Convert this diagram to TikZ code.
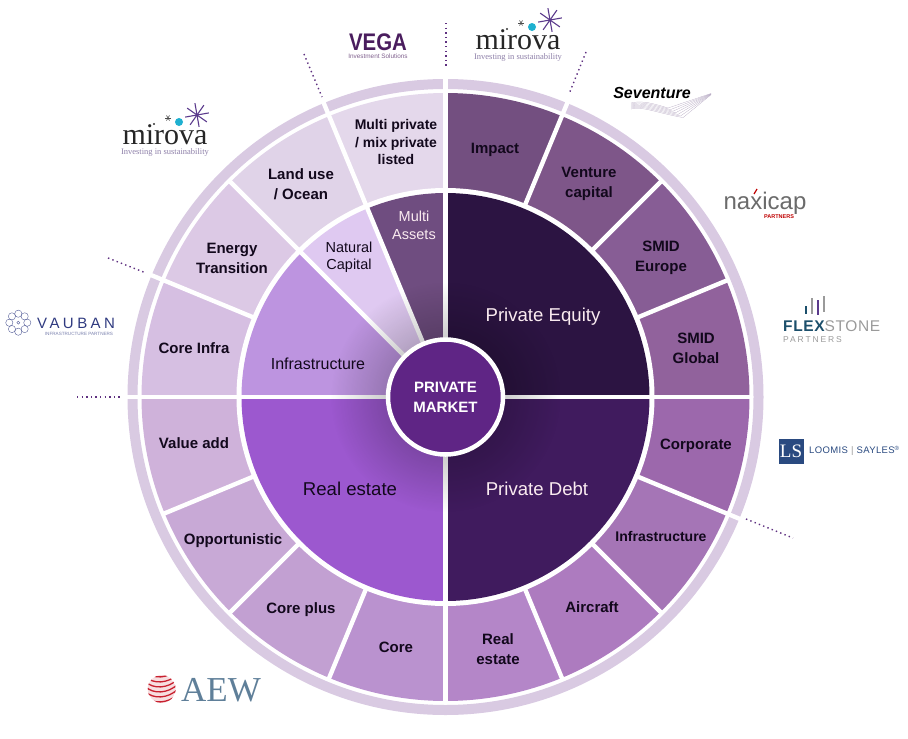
\documentclass[tikz,border=0pt]{standalone}
\usepackage{fontspec}
\setmainfont{Liberation Sans}
\newfontfamily\logoserif{Liberation Serif}
\usetikzlibrary{fadings}

\definecolor{ringcol}{HTML}{D9CAE2}
\definecolor{bandA}{HTML}{734F80}
\definecolor{bandB}{HTML}{7E5689}
\definecolor{bandC}{HTML}{875D95}
\definecolor{bandD}{HTML}{91629C}
\definecolor{bandE}{HTML}{9C68AC}
\definecolor{bandF}{HTML}{A575B6}
\definecolor{bandG}{HTML}{AD7BBF}
\definecolor{bandH}{HTML}{B486C8}
\definecolor{bandI}{HTML}{BA92CF}
\definecolor{bandJ}{HTML}{C2A0D2}
\definecolor{bandK}{HTML}{C8A9D6}
\definecolor{bandL}{HTML}{CFB2DA}
\definecolor{bandM}{HTML}{D6BFE2}
\definecolor{bandN}{HTML}{DCC9E5}
\definecolor{bandO}{HTML}{E0D3E8}
\definecolor{bandP}{HTML}{E4D8EB}
\definecolor{equitycol}{HTML}{2C1442}
\definecolor{debtcol}{HTML}{401B5E}
\definecolor{estatecol}{HTML}{9C58CF}
\definecolor{infracol}{HTML}{BD94E0}
\definecolor{naturalcol}{HTML}{DFC9F1}
\definecolor{assetscol}{HTML}{6F4D80}
\definecolor{hubcol}{HTML}{5F2585}
\definecolor{labeltext}{HTML}{12081C}
\definecolor{leadcol}{HTML}{5E3080}
\definecolor{mirovastar}{HTML}{5B3A8C}
\definecolor{mirovablue}{HTML}{1FB0D0}
\definecolor{mirovatag}{HTML}{8D7FA8}
\definecolor{vegacol}{HTML}{4A1D5E}
\definecolor{swooshcol}{HTML}{B5A8C2}
\definecolor{flexcol}{HTML}{1C4F6B}
\definecolor{stonecol}{HTML}{9A9A9A}
\definecolor{loomiscol}{HTML}{2A4A80}
\definecolor{vaubancol}{HTML}{2F3A80}
\definecolor{aewcol}{HTML}{5F7F99}
\definecolor{aewred}{HTML}{C8202F}

\tikzfading[name=hubfade, inner color=transparent!60, outer color=transparent!100]

\tikzset{
pics/mirovalogo/.style={code={
	\node[text=black!85,font=\logoserif\fontsize{30}{30}\selectfont,inner sep=0,anchor=base] (-word) at (0,7) {mirova};
	\node[text=mirovatag,font=\logoserif\fontsize{8.5}{9}\selectfont,inner sep=0,anchor=base] (-tag) at (0,17.5) {Investing in sustainability};
	\foreach \a in {10,55,100,145}
		\draw[mirovastar,line width=1.1pt] (32,-22) ++(\a:12pt) -- ++(\a+180:24pt);
	\fill[mirovablue] (14,-15) circle[radius=4pt];
	\foreach \a in {0,60,120}
		\draw[black!70,line width=.6pt] (3,-19) ++(\a:3pt) -- ++(\a+180:6pt);
	\fill[black!80] (-11,-13) circle[radius=1.2pt];
}}}

\begin{document}
\begin{tikzpicture}
[x=1pt,y=-1pt,
bandlabel/.style={font=\bfseries\fontsize{15}{20}\selectfont,align=center,text=labeltext,inner sep=0},
smalllabel/.style={font=\bfseries\fontsize{14}{17.5}\selectfont,align=center,text=labeltext,inner sep=0},
innerlabel/.style={font=\fontsize{18.6}{21}\selectfont,align=center,inner sep=0},
thinlabel/.style={font=\fontsize{14.5}{17.5}\selectfont,align=center,inner sep=0},
leader/.style={leadcol,line width=1.4pt,dash pattern=on 1.4pt off 3.2pt},
spoke/.style={white,line width=4.4pt}]

\useasboundingbox (0,0) rectangle (908,739);

\begin{scope}[shift={(445.5,397)}]
% outer ring
\fill[ringcol,even odd rule] (0,0) circle[radius=318pt] (0,0) circle[radius=308pt];
\foreach \a in {90,67.5,-22.5,157.5,180,112.5}
	\draw[spoke] (\a:305pt) -- (\a:321pt);
% band of sixteen
\foreach \col [count=\i,evaluate=\i as \a using 90-(\i-1)*22.5] in {bandA,bandB,bandC,bandD,bandE,bandF,bandG,bandH,bandI,bandJ,bandK,bandL,bandM,bandN,bandO,bandP}
	\fill[\col] (0,0) -- (\a:304pt) arc[start angle=\a,delta angle=-22.5,radius=304pt] -- cycle;
\foreach \i in {0,...,15}
	\draw[spoke] (90-\i*22.5:204pt) -- (90-\i*22.5:306pt);
\fill[white] (0,0) circle[radius=209pt];
% inner sectors
\fill[equitycol] (0,0) -- (90:204pt) arc[start angle=90,delta angle=-90,radius=204pt] -- cycle;
\fill[debtcol] (0,0) -- (0:204pt) arc[start angle=0,delta angle=-90,radius=204pt] -- cycle;
\fill[estatecol] (0,0) -- (-90:204pt) arc[start angle=-90,delta angle=-90,radius=204pt] -- cycle;
\fill[infracol] (0,0) -- (180:204pt) arc[start angle=180,delta angle=-45,radius=204pt] -- cycle;
\fill[naturalcol] (0,0) -- (135:204pt) arc[start angle=135,delta angle=-22.5,radius=204pt] -- cycle;
\fill[assetscol] (0,0) -- (112.5:204pt) arc[start angle=112.5,delta angle=-22.5,radius=204pt] -- cycle;
\foreach \a in {90,0,-90,180,135,112.5}
	\draw[spoke] (0,0) -- (\a:209pt);
\fill[black,path fading=hubfade] (0,0) circle[radius=115pt];
\end{scope}

\node[circle,draw=white,line width=4.5pt,fill=hubcol,minimum size=115pt,inner sep=0,text=white,align=center,font=\bfseries\fontsize{15}{20}\selectfont] (hub) at (445.5,397) {PRIVATE\\MARKET};

% inner labels
\node[innerlabel,text=white!92!purple] (equity) at (543,317) {Private Equity};
\node[innerlabel,text=white!92!purple] (debt) at (537,489) {Private Debt};
\node[innerlabel,text=labeltext] (estate) at (350,489) {Real estate};
\node[thinlabel,text=labeltext,font=\fontsize{16}{18}\selectfont] (infra) at (318,364) {Infrastructure};
\node[thinlabel,text=labeltext] (natural) at (349,257) {Natural\\Capital};
\node[thinlabel,text=white!92!purple] (assets) at (414,225.5) {Multi\\Assets};

% band labels
\node[bandlabel] (impact) at (495,150) {Impact};
\node[bandlabel] (venture) at (589,184) {Venture\\capital};
\node[bandlabel] (smideu) at (661,258) {SMID\\Europe};
\node[bandlabel] (smidgl) at (696,348) {SMID\\Global};
\node[bandlabel] (corporate) at (696,446) {Corporate};
\node[smalllabel] (infradebt) at (661,536) {Infrastructure};
\node[bandlabel] (aircraft) at (592,607) {Aircraft};
\node[bandlabel] (realdebt) at (498,649) {Real\\estate};
\node[bandlabel] (core) at (396,647) {Core};
\node[bandlabel] (coreplus) at (301,610) {Core plus};
\node[bandlabel] (opport) at (233,541) {Opportunistic};
\node[bandlabel] (valueadd) at (194,443) {Value add};
\node[bandlabel] (coreinfra) at (194,348) {Core Infra};
\node[bandlabel] (energy) at (232,258.5) {Energy\\Transition};
\node[bandlabel] (landuse) at (301,184) {Land use\\/ Ocean};
\node[smalllabel] (multi) at (396,142) {Multi private\\/ mix private\\listed};

% leaders
\coordinate (leadAa) at (446,23);
\coordinate (leadAb) at (446,68);
\coordinate (leadBa) at (586,52);
\coordinate (leadBb) at (569,94);
\coordinate (leadCa) at (746,519);
\coordinate (leadCb) at (793,538);
\coordinate (leadDa) at (77,397);
\coordinate (leadDb) at (122,397);
\coordinate (leadEa) at (108,258);
\coordinate (leadEb) at (146,273);
\coordinate (leadFa) at (304,54);
\coordinate (leadFb) at (322,97);
\foreach \l in {A,B,C,D,E,F}
	\draw[leader] (lead\l a) -- (lead\l b);

% logos
\pic (mirovaright) at (518,42) {mirovalogo};
\pic (mirovaleft) at (165,137) {mirovalogo};

\node[text=vegacol,font=\bfseries\fontsize{24}{24}\selectfont,inner sep=0] (vega) at (378,42) {\scalebox{.85}[1]{VEGA}};
\node[text=vegacol!70,font=\fontsize{6.4}{7}\selectfont,inner sep=0] (vegasub) at (378,56) {Investment Solutions};

\foreach \s in {0,...,6} {
	\draw[swooshcol,line width=.25pt] (631,{103+\s}) .. controls (642,{100+\s}) and (655,{104+\s*1.4}) .. ({668+\s*2.5},{108+\s*1.6});
	\draw[swooshcol,line width=.25pt] ({668+\s*2.5},{108+\s*1.6}) -- (711,{93.5+\s*.2});
}
\node[text=black,font=\bfseries\itshape\fontsize{16}{16}\selectfont,inner sep=0] (seventure) at (652,93) {Seventure};

\node[text=black!58,font=\fontsize{24}{24}\selectfont,inner sep=0,anchor=base] (naxicap) at (765,209) {naxicap};
\draw[red!75!black,line width=1.2pt] (754,194) -- (757,189);
\node[text=red!75!black,font=\bfseries\fontsize{5.5}{6}\selectfont,inner sep=0] (naxisub) at (779,216.5) {PARTNERS};

\foreach \x/\top/\bot/\col in {806/306/314/flexcol,812/298/314/stonecol,818/300/315/mirovastar,824/296/312/stonecol}
	\draw[\col,line width=2pt] (\x,\top) -- (\x,\bot);
\node[font=\fontsize{15.5}{16}\selectfont,inner sep=0,anchor=west] (flexstone) at (783,326) {\addfontfeature{LetterSpace=4}\textcolor{flexcol}{\bfseries FLEX}\textcolor{stonecol}{STONE}};
\node[text=stonecol,font=\fontsize{8.5}{9}\selectfont,inner sep=0,anchor=west] (flexsub) at (783,340) {\addfontfeature{LetterSpace=22}PARTNERS};

\node[fill=loomiscol,minimum size=25pt,inner sep=0,text=white,font=\logoserif\fontsize{19}{19}\selectfont] (lsbox) at (791,451.5) {LS};
\node[text=loomiscol,font=\fontsize{9.5}{10}\selectfont,inner sep=0,anchor=west] (loomis) at (809,451) {\addfontfeature{LetterSpace=4}LOOMIS \textcolor{stonecol}{|} SAYLES\raisebox{3.5pt}{\fontsize{6}{6}\selectfont ®}};

\foreach \a in {0,45,...,315}
	\draw[vaubancol!80,line width=.4pt] (18.3,322.7) ++(\a:9pt) circle[radius=3.6pt];
\draw[vaubancol!80,line width=.4pt] (18.3,322.7) circle[radius=1.5pt];
\node[text=vaubancol,font=\fontsize{15}{15}\selectfont,inner sep=0,anchor=west] (vauban) at (37,323.6) {\addfontfeature{LetterSpace=23}VAUBAN};
\node[text=vaubancol!65,font=\fontsize{4.6}{6}\selectfont,inner sep=0] (vaubansub) at (79,334) {INFRASTRUCTURE PARTNERS};

\begin{scope}
\clip (161.7,689) circle[radius=14pt];
\fill[aewred!15] (161.7,689) circle[radius=14pt];
\foreach \y in {672,677,...,702}
	\draw[aewred,line width=1.3pt] (146,\y) .. controls (153,{\y+7}) and (168,{\y+7}) .. (178,{\y-3});
\end{scope}
\node[text=aewcol,font=\logoserif\fontsize{35}{35}\selectfont,inner sep=0] (aew) at (221,690) {AEW};
\end{tikzpicture}
\end{document}
